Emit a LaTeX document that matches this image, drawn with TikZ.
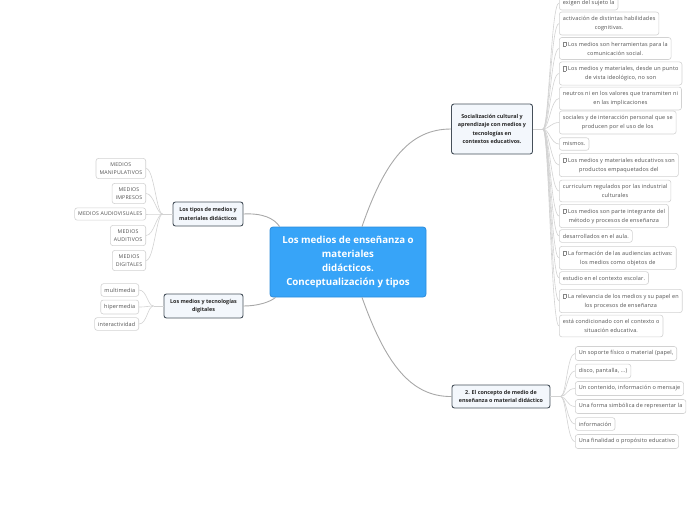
\documentclass[tikz,border=0pt]{standalone}
\usepackage{fontspec}
\setmainfont{Open Sans}
\usetikzlibrary{positioning,calc}
\definecolor{mainblue}{HTML}{37A4F8}
\definecolor{mainline}{HTML}{2B8CDB}
\definecolor{branchfill}{HTML}{F3F7FC}
\definecolor{branchline}{HTML}{46505A}
\definecolor{leafline}{HTML}{D2D2D2}
\definecolor{leaftext}{HTML}{505050}
\definecolor{edgegray}{HTML}{A8A8A8}
\tikzstyle{every node}+=[inner sep=0pt]
\tikzstyle{leaf}=[draw=leafline,line width=0.6pt,fill=white,rounded corners=2.5pt,inner xsep=3.5pt,inner ysep=4.2pt,align=center,text=leaftext,font=\fontsize{5.5}{9}\selectfont\addfontfeatures{LetterSpace=3}]
\tikzstyle{branch}=[draw=branchline,line width=0.9pt,fill=branchfill,rounded corners=2.5pt,align=center,text=black!85,font=\fontsize{5.4}{8.5}\selectfont\bfseries]
\tikzstyle{topic}=[draw=mainline,line width=0.8pt,fill=mainblue,rounded corners=3pt,align=center,text=white,font=\fontsize{9.7}{14}\selectfont\bfseries,minimum width=156,minimum height=70]
\tikzstyle{mainedge}=[edgegray,line width=0.9pt]
\tikzstyle{leafedge}=[leafline,line width=0.6pt]
\newcommand{\nobox}{{\color{leaftext!70}\setlength\fboxsep{0pt}\setlength\fboxrule{0.25pt}\fbox{\vrule width 0pt height 4.2pt\hspace{3pt}}}\hspace{1.8pt}}
\newcommand{\fanright}[2]{
	\foreach \b in {#2}{
		\draw[leafedge] (#1) .. controls +(6,0) and +(-8,0) .. (\b.west);
	}
}
\newcommand{\fanleft}[2]{
	\foreach \b in {#2}{
		\draw[leafedge] (#1) .. controls +(-6,0) and +(8,0) .. (\b.east);
	}
}
\begin{document}
\begin{tikzpicture}[x=1pt,y=-1pt]
\useasboundingbox (0,0) rectangle (696,520);
\clip (0,0) rectangle (696,520);

% central topic and branches
\node[topic] (main) at (348,262) {Los medios de enseñanza o\\materiales\\didácticos.\\Conceptualización y tipos};
\node[branch,minimum width=81,minimum height=50] (soc) at (492,129) {Socialización cultural y\\aprendizaje con medios y\\tecnologías en\\contextos educativos.};
\node[branch,minimum width=98,minimum height=23] (conc) at (501,396.5) {2. El concepto de medio de\\enseñanza o material didáctico};
\node[branch,minimum width=70,minimum height=24] (tipos) at (208,214) {Los tipos de medios y\\materiales didácticos};
\node[branch,minimum width=79,minimum height=24] (digi) at (203.5,306) {Los medios y tecnologías\\digitales};

\draw[mainedge] ($(main.north)+(14,0)$) .. controls (385,160) and (410,129) .. (soc.west);
\draw[mainedge] ($(main.south)+(14,0)$) .. controls (385,362) and (410,397) .. (conc.west);
\draw[mainedge] (tipos.east) .. controls (262,213) and (274,218) .. ($(main.north west)+(10,0)$);
\draw[mainedge] (digi.east) .. controls (258,306) and (270,302) .. ($(main.south west)+(6,0)$);

% leaves of socializacion
\foreach \y/\t [count=\i] in {
	3/{exigen del sujeto la},
	23.5/{activación de distintas habilidades\\cognitivas.},
	48.5/{\nobox Los medios son herramientas para la\\comunicación social.},
	73.5/{\nobox Los medios y materiales, desde un punto\\de vista ideológico, no son},
	98.5/{neutros ni en los valores que transmiten ni\\en las implicaciones},
	122.5/{sociales y de interacción personal que se\\producen por el uso de los},
	144/{mismos.},
	165/{\nobox Los medios y materiales educativos son\\productos empaquetados del},
	191/{curriculum regulados por las industrial\\culturales},
	216/{\nobox Los medios son parte integrante del\\método y procesos de enseñanza},
	236/{desarrollados en el aula.},
	258/{\nobox La formación de las audiencias activas:\\los medios como objetos de},
	278/{estudio en el contexto escolar.},
	301/{\nobox La relevancia de los medios y su papel en\\los procesos de enseñanza},
	326/{está condicionado con el contexto o\\situación educativa.}}
	\node[leaf,anchor=west] (s\i) at (559,\y) {\t};
\draw[leafedge] (soc.east) -- ++(10,0) coordinate (sj);
\fanright{sj}{s1,s2,s3,s4,s5,s6,s7,s8,s9,s10,s11,s12,s13,s14,s15}

% leaves of concepto
\foreach \y/\t [count=\i] in {
	353.5/{Un soporte físico o material (papel,},
	371/{disco, pantalla, ...)},
	388.5/{Un contenido, información o mensaje},
	406.5/{Una forma simbólica de representar la},
	424/{información},
	441.5/{Una finalidad o propósito educativo}}
	\node[leaf,anchor=west] (c\i) at (575,\y) {\t};
\draw[leafedge] (conc.east) -- ++(10,0) coordinate (cj);
\fanright{cj}{c1,c2,c3,c4,c5,c6}

% leaves of tipos
\foreach \y/\t [count=\i] in {
	168.5/{MEDIOS\\MANIPULATIVOS},
	193.5/{MEDIOS\\IMPRESOS},
	214/{MEDIOS  AUDIOVISUALES},
	235.5/{MEDIOS\\AUDITIVOS},
	260.5/{MEDIOS\\DIGITALES}}
	\node[leaf,anchor=east,font=\fontsize{5.2}{8}\selectfont\addfontfeatures{LetterSpace=4}] (t\i) at (146,\y) {\t};
\draw[leafedge] (tipos.west) -- ++(-10,0) coordinate (tj);
\fanleft{tj}{t1,t2,t3,t4,t5}

% leaves of digitales
\foreach \y/\t [count=\i] in {
	290/{multimedia},
	307/{hipermedia},
	324/{interactividad}}
	\node[leaf,anchor=east] (d\i) at (139,\y) {\t};
\draw[leafedge] (digi.west) -- ++(-10,0) coordinate (dj);
\fanleft{dj}{d1,d2,d3}
\end{tikzpicture}
\end{document}
